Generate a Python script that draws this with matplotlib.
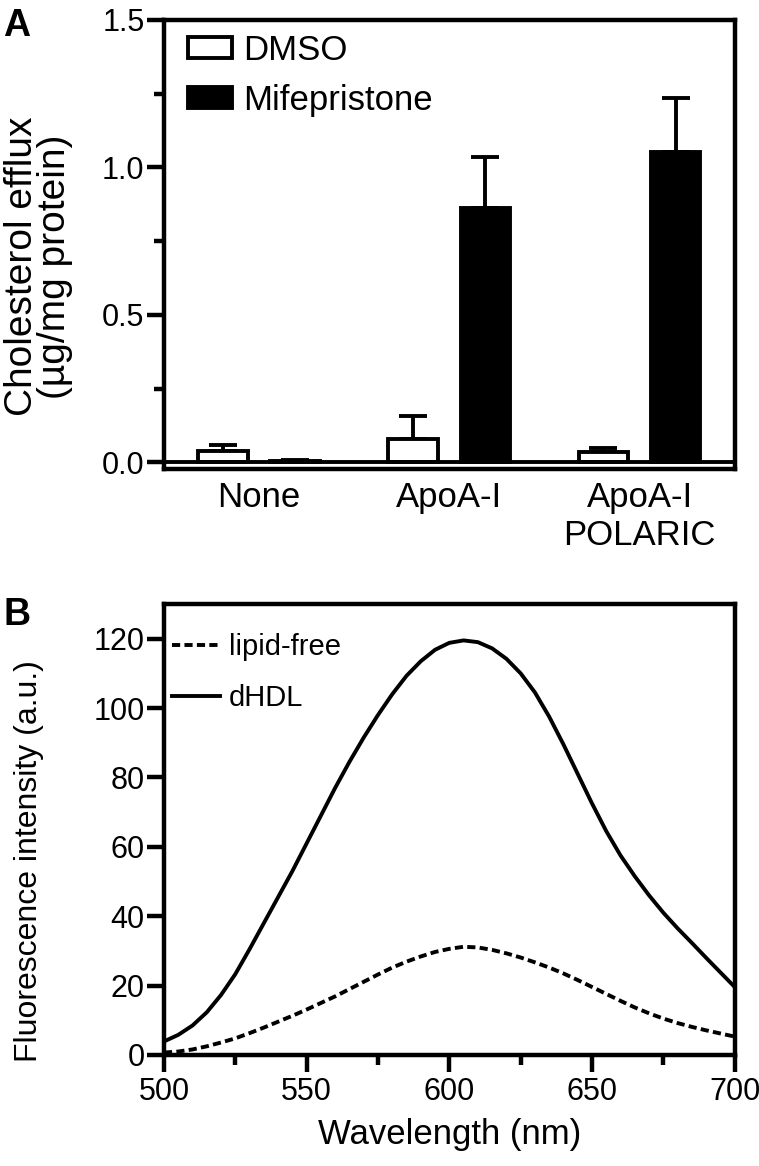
import numpy as np
import matplotlib
matplotlib.use("Agg")
import matplotlib.pyplot as plt
from matplotlib.patches import Patch
from matplotlib.lines import Line2D
from matplotlib.ticker import MultipleLocator

plt.rcParams['font.family'] = ['Liberation Sans', 'DejaVu Sans']

# panel A : cholesterol efflux
groups = ['None', 'ApoA-I', 'ApoA-I\nPOLARIC']
dmso = [0.037, 0.078, 0.034]
dmso_err = [0.021, 0.078, 0.013]
mife = [0.004, 0.862, 1.052]
mife_err = [0.004, 0.173, 0.184]

# panel B : fluorescence spectra
wavelength = [500, 505, 510, 515, 520, 525, 530, 535, 540, 545,
              550, 555, 560, 565, 570, 575, 580, 585, 590, 595,
              600, 605, 610, 615, 620, 625, 630, 635, 640, 645,
              650, 655, 660, 665, 670, 675, 680, 685, 690, 695, 700]
dhdl = [3.9, 5.8, 8.5, 12.3, 17.3, 23.3, 30.5, 38.0, 45.5, 53.0,
        61.0, 69.0, 77.0, 84.5, 91.5, 98.0, 104.0, 109.3, 113.5, 116.8,
        118.8, 119.5, 119.0, 117.2, 114.2, 110.0, 104.5, 97.5, 89.5, 81.0,
        72.5, 64.5, 57.5, 51.5, 46.0, 41.0, 36.5, 32.3, 28.0, 23.8, 19.6]
lipid_free = [0.7, 1.0, 1.6, 2.5, 3.6, 4.8, 6.3, 7.9, 9.6, 11.3,
              13.1, 15.0, 16.9, 19.0, 21.1, 23.2, 25.2, 26.9, 28.4, 29.7,
              30.6, 31.2, 31.0, 30.3, 29.3, 28.1, 26.7, 25.2, 23.5, 21.6,
              19.6, 17.6, 15.6, 13.7, 12.0, 10.5, 9.2, 8.1, 7.1, 6.2, 5.3]

LW = 2.8
SW = 3.2
DASH = (0, (2.1, 1.1))
fig = plt.figure(figsize=(7.59, 11.66), dpi=100)

# ---------------- A
axA = fig.add_axes([0.216, 0.598, 0.752, 0.385])
x = np.arange(len(groups))
w = 0.26
off = 0.19
axA.bar(x - off, dmso, w, color='white', edgecolor='black', linewidth=LW, zorder=3)
axA.errorbar(x - off, dmso, yerr=[np.zeros(3), dmso_err], fmt='none', ecolor='black',
             elinewidth=LW, capsize=10, capthick=LW, zorder=2)
axA.bar(x + off, mife, w, color='black', edgecolor='black', linewidth=LW, zorder=3)
axA.errorbar(x + off, mife, yerr=[np.zeros(3), mife_err], fmt='none', ecolor='black',
             elinewidth=LW, capsize=10, capthick=LW, zorder=2)
axA.axhline(0, color='black', lw=LW, zorder=4)
axA.set_xlim(-0.5, 2.5)
axA.set_ylim(-0.022, 1.5)
axA.set_xticks(x)
axA.set_xticklabels(groups, fontsize=25, linespacing=1.2)
axA.tick_params(axis='x', length=0, pad=9)
axA.yaxis.set_minor_locator(MultipleLocator(0.25))
axA.set_yticks([0.0, 0.5, 1.0, 1.5])
axA.set_yticklabels(['0.0', '0.5', '1.0', '1.5'])
axA.tick_params(axis='y', which='major', length=12, width=SW, labelsize=22, pad=2)
axA.tick_params(axis='y', which='minor', length=7, width=SW)
for s in axA.spines.values():
    s.set_linewidth(SW)
axA.set_ylabel('Cholesterol efflux\n(µg/mg protein)', fontsize=28, linespacing=0.88)
axA.yaxis.set_label_coords(-0.16, 0.45)
hA = [Patch(facecolor='white', edgecolor='black', linewidth=LW),
      Patch(facecolor='black', edgecolor='black', linewidth=LW)]
axA.legend(hA, ['DMSO', 'Mifepristone'], loc='upper left', frameon=False, fontsize=25,
           handlelength=1.27, handleheight=0.58, handletextpad=0.32, labelspacing=0.49,
           borderaxespad=0, bbox_to_anchor=(0.018, 1.0))

# ---------------- B
axB = fig.add_axes([0.216, 0.0952, 0.752, 0.3868])
axB.plot(wavelength, lipid_free, color='black', lw=LW, linestyle=DASH)
axB.plot(wavelength, dhdl, color='black', lw=LW)
axB.set_xlim(500, 700)
axB.set_ylim(0, 130)
axB.xaxis.set_major_locator(MultipleLocator(50))
axB.xaxis.set_minor_locator(MultipleLocator(25))
axB.set_yticks([0, 20, 40, 60, 80, 100, 120])
axB.tick_params(which='major', length=12, width=SW, labelsize=22)
axB.tick_params(axis='y', pad=2)
axB.tick_params(axis='x', pad=4)
axB.tick_params(which='minor', length=7, width=SW)
for s in axB.spines.values():
    s.set_linewidth(SW)
axB.set_xlabel('Wavelength (nm)', fontsize=25)
axB.xaxis.set_label_coords(0.5, -0.14)
axB.set_ylabel('Fluorescence intensity (a.u.)', fontsize=23)
axB.yaxis.set_label_coords(-0.21, 0.43)
hB = [Line2D([], [], color='black', lw=LW, linestyle=DASH),
      Line2D([], [], color='black', lw=LW)]
axB.legend(hB, ['lipid-free', 'dHDL'], loc='upper left', frameon=False, fontsize=21,
           handlelength=1.65, handletextpad=0.3, labelspacing=0.78,
           borderaxespad=0, bbox_to_anchor=(-0.006, 0.961))

fig.text(0.004, 0.993, 'A', fontsize=27, fontweight='bold', va='top')
fig.text(0.004, 0.488, 'B', fontsize=27, fontweight='bold', va='top')

fig.savefig('out.png', dpi=100)
